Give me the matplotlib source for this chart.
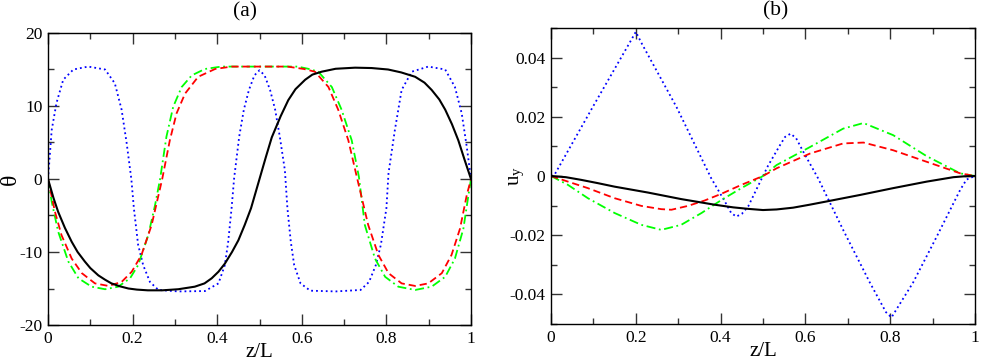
import numpy as np
import matplotlib.pyplot as plt
from matplotlib.ticker import MultipleLocator

plt.rcParams['font.family'] = ['Liberation Serif', 'DejaVu Serif']
plt.rcParams['mathtext.fontset'] = 'stix'

# panel (a): theta(z/L)
th_black_x = [0, 0.013, 0.024, 0.04, 0.056, 0.07, 0.087, 0.1, 0.119, 0.135, 0.15, 0.17, 0.19, 0.21,
              0.236, 0.27, 0.308, 0.347, 0.37, 0.387, 0.403, 0.418, 0.435, 0.45, 0.465, 0.48, 0.5,
              0.515, 0.529, 0.55, 0.568, 0.585, 0.608, 0.625, 0.647, 0.68, 0.726, 0.765, 0.804,
              0.835, 0.868, 0.89, 0.907, 0.925, 0.939, 0.955, 0.97, 0.985, 1.0]
th_black = [0, -2.6, -4.5, -6.7, -8.6, -10.0, -11.3, -12.2, -13.2, -13.8, -14.3, -14.7, -15.0, -15.15,
            -15.25, -15.25, -15.1, -14.75, -14.3, -13.6, -12.7, -11.6, -10.0, -8.4, -6.3, -4.0, 0,
            3.0, 5.7, 8.6, 10.8, 12.3, 13.6, 14.3, 14.7, 15.1, 15.25, 15.2, 15.0,
            14.6, 14.0, 13.2, 12.2, 10.9, 9.5, 7.5, 5.3, 2.6, 0]

th_red_x = [0, 0.0165, 0.032, 0.056, 0.08, 0.111, 0.143, 0.174, 0.198, 0.221, 0.245, 0.27, 0.288,
            0.304, 0.324, 0.355, 0.395, 0.434, 0.5, 0.566, 0.605, 0.631, 0.663, 0.686, 0.71, 0.73,
            0.757, 0.781, 0.805, 0.836, 0.868, 0.899, 0.931, 0.954, 0.974, 0.99, 1.0]
th_red = [0, -4.5, -7.7, -10.9, -12.9, -14.3, -14.65, -14.1, -12.7, -10.4, -6.3, 0, 5.3,
          9.0, 11.7, 14.0, 15.07, 15.4, 15.4, 15.4, 15.07, 14.7, 12.6, 9.5, 5.3, 0.3,
          -6.3, -10.4, -12.9, -14.3, -14.65, -14.3, -12.9, -10.4, -6.8, -2.2, 0]

th_green_x = [0, 0.0087, 0.024, 0.048, 0.072, 0.103, 0.135, 0.166, 0.194, 0.213, 0.237, 0.253, 0.265,
              0.28, 0.296, 0.316, 0.34, 0.371, 0.41, 0.5, 0.59, 0.615, 0.639, 0.671, 0.694, 0.718,
              0.735, 0.749, 0.773, 0.797, 0.828, 0.868, 0.907, 0.939, 0.962, 0.982, 0.994, 1.0]
th_green = [0, -3.1, -7.2, -11.3, -13.6, -14.75, -15.1, -14.75, -13.6, -11.8, -7.7, -3.6, 0,
            5.8, 9.9, 12.6, 14.2, 15.07, 15.4, 15.4, 15.4, 15.1, 14.7, 12.6, 9.5, 5.3,
            0.3, -6.3, -10.9, -13.4, -14.75, -15.2, -14.75, -13.4, -10.9, -6.8, -2.2, 0]

th_blue_x = [0, 0.004, 0.0087, 0.02, 0.036, 0.06, 0.095, 0.135, 0.158, 0.174, 0.186, 0.197, 0.203,
             0.213, 0.225, 0.241, 0.261, 0.308, 0.371, 0.403, 0.418, 0.426, 0.434, 0.44, 0.452,
             0.463, 0.475, 0.488, 0.5, 0.512, 0.525, 0.537, 0.548, 0.56, 0.566, 0.574, 0.582,
             0.597, 0.62, 0.68, 0.739, 0.759, 0.775, 0.787, 0.8, 0.805, 0.82, 0.836, 0.86, 0.899,
             0.939, 0.962, 0.978, 0.99, 1.0]
th_blue = [0, 3.0, 6.7, 10.4, 13.6, 15.0, 15.4, 15.0, 13.1, 9.5, 4.9, 0, -4.0,
           -9.0, -11.8, -14.1, -15.2, -15.4, -15.35, -14.3, -11.8, -8.6, -4.0, 0.1, 5.8,
           9.5, 12.2, 14.2, 14.9, 14.2, 12.2, 9.5, 5.8, 1.2, -4.0, -8.6, -11.8,
           -14.3, -15.3, -15.4, -15.2, -14.1, -11.8, -9.0, -4.0, 0.8, 6.7, 12.2, 14.7, 15.4,
           15.0, 12.6, 9.0, 4.4, 0]

# panel (b): u_y(z/L)
uy_black_x = [0, 0.035, 0.071, 0.11, 0.15, 0.229, 0.307, 0.386, 0.43, 0.465, 0.5, 0.532, 0.571,
              0.61, 0.65, 0.729, 0.807, 0.886, 0.949, 0.975, 1.0]
uy_black = [0, -0.0004, -0.0013, -0.0024, -0.0036, -0.0056, -0.0078, -0.0097, -0.0106, -0.0111,
            -0.0115, -0.0113, -0.0107, -0.0097, -0.0086, -0.0064, -0.0041, -0.0019, -0.0004,
            -0.0001, 0]

uy_red_x = [0, 0.04, 0.087, 0.15, 0.213, 0.26, 0.284, 0.323, 0.362, 0.402, 0.449, 0.5, 0.532,
            0.611, 0.689, 0.737, 0.807, 0.886, 0.965, 1.0]
uy_red = [0, -0.0019, -0.0041, -0.0075, -0.0101, -0.0112, -0.0114, -0.0101, -0.0083, -0.006,
          -0.003, 0, 0.0026, 0.0076, 0.011, 0.0113, 0.0087, 0.0048, 0.0009, 0]

uy_green_x = [0, 0.04, 0.087, 0.15, 0.213, 0.26, 0.307, 0.355, 0.402, 0.449, 0.5, 0.532, 0.611,
              0.689, 0.737, 0.807, 0.886, 0.965, 1.0]
uy_green = [0, -0.003, -0.0075, -0.0125, -0.0165, -0.0182, -0.0165, -0.0125, -0.0081, -0.0041, 0,
            0.0037, 0.0098, 0.016, 0.0179, 0.0138, 0.0067, 0.0009, 0]

uy_blue_x = [0, 0.009, 0.1, 0.185, 0.2, 0.215, 0.296, 0.378, 0.41, 0.425, 0.437, 0.45, 0.465,
             0.488, 0.5, 0.512, 0.54, 0.552, 0.565, 0.578, 0.595, 0.63, 0.689, 0.752, 0.79,
             0.803, 0.815, 0.854, 0.91, 0.965, 0.98, 1.0]
uy_blue = [0, 0.0006, 0.0237, 0.0449, 0.0487, 0.0445, 0.0233, -0.0008, -0.0086, -0.0125, -0.0137,
           -0.0128, -0.0103, -0.0035, 0, 0.0035, 0.0104, 0.0132, 0.0143, 0.0128, 0.0082, -0.0008,
           -0.0182, -0.036, -0.046, -0.0478, -0.045, -0.036, -0.0204, -0.0047, -0.0012, 0]

fig = plt.figure(figsize=(9.81, 3.61), dpi=100)
ax1 = fig.add_axes([48 / 981, 1 - 325 / 361, 423 / 981, 292 / 361])
ax2 = fig.add_axes([551 / 981, 1 - 324 / 361, 424 / 981, 296 / 361])

lw = 1.3
red_dash = (4, 2.2)
green_dash = (5, 2, 1, 2)

ax1.plot(th_blue_x, th_blue, color='#0000ff', lw=lw, ls=(0, (1, 1.7)))
ax1.plot(th_green_x, th_green, color='#00ff00', lw=lw, ls=(0, green_dash))
ax1.plot(th_red_x, th_red, color='#ff0000', lw=lw, ls=(0, red_dash))
ax1.plot(th_black_x, th_black, color='black', lw=1.5)

ax2.plot(uy_blue_x, uy_blue, color='#0000ff', lw=lw, ls=(0, (1, 1.7)))
ax2.plot(uy_green_x, uy_green, color='#00ff00', lw=lw, ls=(0, green_dash))
ax2.plot(uy_red_x, uy_red, color='#ff0000', lw=lw, ls=(0, red_dash))
ax2.plot(uy_black_x, uy_black, color='black', lw=1.5)

ax1.set_xlim(0, 1)
ax1.set_ylim(-20, 20)
ax1.yaxis.set_major_locator(MultipleLocator(10))
ax1.yaxis.set_minor_locator(MultipleLocator(5))

ax2.set_xlim(0, 1)
ax2.set_ylim(-0.05, 0.05)
ax2.yaxis.set_major_locator(MultipleLocator(0.02))
ax2.yaxis.set_minor_locator(MultipleLocator(0.01))

for ax in (ax1, ax2):
    ax.xaxis.set_major_locator(MultipleLocator(0.2))
    ax.xaxis.set_minor_locator(MultipleLocator(0.1))
    ax.tick_params(which='both', direction='in', top=True, right=True, labelsize=12.5,
                   width=1.0, pad=4, color='#333333')
    ax.tick_params(which='major', length=8)
    ax.tick_params(which='minor', length=4)
    for s in ax.spines.values():
        s.set_linewidth(1.0)
    ax.xaxis.set_major_formatter(plt.FuncFormatter(lambda v, p: '%g' % round(v, 3)))
    ax.yaxis.set_major_formatter(plt.FuncFormatter(lambda v, p: '%g' % round(v, 3)))
    ax.set_xlabel('z/L', fontsize=15)
    ax.xaxis.set_label_coords(0.5, -0.062)

ax1.set_ylabel('θ', fontsize=17)
ax1.yaxis.set_label_coords(-0.064, 0.5)
ax2.set_ylabel(r'u$_{\mathregular{y}}$', fontsize=15)
ax2.yaxis.set_label_coords(-0.056, 0.5)

fig.text(245 / 981, 1 - 12 / 361, '(a)', ha='center', va='center', fontsize=15.5)
fig.text(776 / 981, 1 - 11 / 361, '(b)', ha='center', va='center', fontsize=15.5)

fig.savefig('out.png', dpi=100)
